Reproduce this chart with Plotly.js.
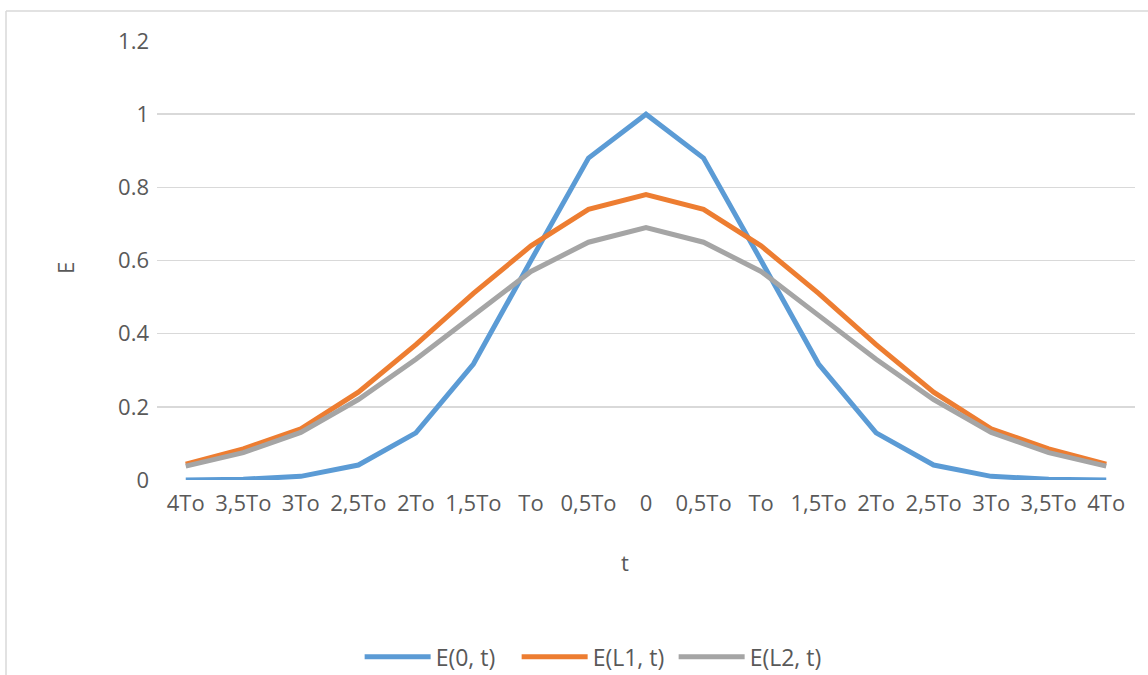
<!DOCTYPE html>
<html>
<head>
<meta charset="utf-8">
<script src="https://cdn.plot.ly/plotly-3.0.1.min.js"></script>
<style>html,body{margin:0;padding:0;background:#fff;}#chart{width:1148px;height:675px;}</style>
</head>
<body>
<div id="chart"></div>
<script>
const tickLabels = ["4To","3,5To","3To","2,5To","2To","1,5To","To","0,5To","0","0,5To","To","1,5To","2To","2,5To","3To","3,5To","4To"];
const positions = [0,1,2,3,4,5,6,7,8,9,10,11,12,13,14,15,16];
const e0 = [0.0003,0.002,0.010,0.041,0.129,0.317,0.60,0.88,1.0,0.88,0.60,0.317,0.129,0.041,0.010,0.002,0.0003];
const eL1 = [0.043,0.085,0.14,0.24,0.37,0.51,0.64,0.74,0.78,0.74,0.64,0.51,0.37,0.24,0.14,0.085,0.043];
const eL2 = [0.038,0.075,0.13,0.22,0.33,0.45,0.57,0.65,0.69,0.65,0.57,0.45,0.33,0.22,0.13,0.075,0.038];
const seriesNames = ["E(0, t)","E(L1, t)","E(L2, t)"];
const xTitle = "t";
const yTitle = "E";
const colors = ["#5b9bd5","#ed7d31","#a5a5a5"];
const data = [e0,eL1,eL2].map((v,i)=>({
  x: positions, y: v, type:'scatter', mode:'lines', name: seriesNames[i],
  line:{color:colors[i], width:5, shape:'linear'}
}));
const fam = '"Open Sans", sans-serif';
const txt = '#595959';
const layout = {
  width:1148, height:675,
  margin:{l:157, r:13, t:41, b:195, autoexpand:false},
  paper_bgcolor:'#fff', plot_bgcolor:'#fff',
  font:{family:fam, size:22, color:txt},
  showlegend:true,
  legend:{orientation:'h', x:0.448, xanchor:'center', yref:'container', y:0.027, yanchor:'middle',
          font:{family:fam,size:23,color:txt}, traceorder:'normal', itemwidth:66,
          entrywidthmode:'pixels', entrywidth:76},
  xaxis:{
    range:[-0.5,16.5], tickvals:positions, ticktext:tickLabels, tickmode:'array', automargin:false,
    showgrid:false, zeroline:false, showline:false, ticks:'', ticklabelstandoff:8,
    tickfont:{family:fam,size:22,color:txt}
  },
  yaxis:{
    range:[0,1.2], tickvals:[0,0.2,0.4,0.6,0.8,1,1.2], ticktext:['0','0.2','0.4','0.6','0.8','1','1.2'],
    showgrid:true, gridcolor:'#d9d9d9', gridwidth:1.5, zeroline:false, showline:false, ticks:'', automargin:false,
    ticklabelstandoff:7,
    tickfont:{family:fam,size:22,color:txt}
  },
  annotations:[
    {text:xTitle, xref:'paper', yref:'paper', x:0.4785, y:-0.187, xanchor:'center', yanchor:'middle', showarrow:false, font:{family:fam,size:22,color:txt}},
    {text:yTitle, xref:'paper', yref:'paper', x:-0.0941, y:0.483, xanchor:'center', yanchor:'middle', textangle:-90, showarrow:false, font:{family:fam,size:22,color:txt}}
  ],
  shapes:[
    {type:'line', xref:'paper', yref:'paper', x0:-0.1544, x1:1.02, y0:1.0684, y1:1.0684, line:{color:'#d9d9d9', width:1.5}},
    {type:'line', xref:'paper', yref:'paper', x0:-0.1544, x1:-0.1544, y0:1.0684, y1:-0.45, line:{color:'#d9d9d9', width:1.5}}
  ]
};
Plotly.newPlot('chart', data, layout, {displayModeBar:false, staticPlot:true});
</script>
</body>
</html>
